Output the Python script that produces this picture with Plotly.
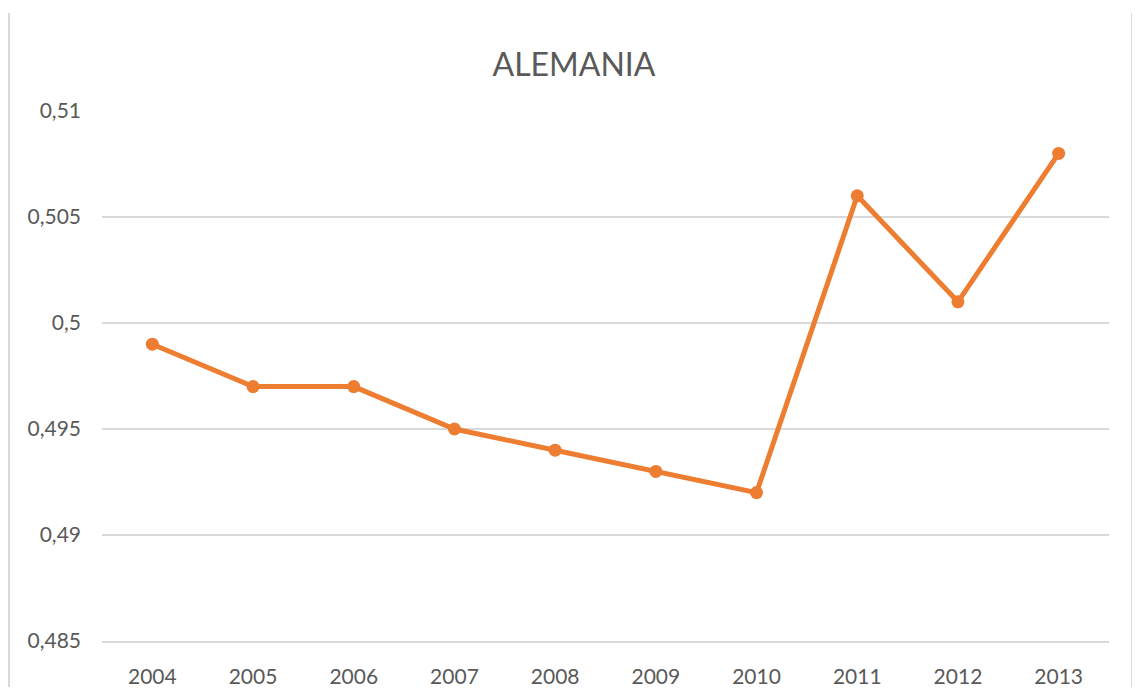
import plotly.graph_objects as go

years = ["2004", "2005", "2006", "2007", "2008", "2009", "2010", "2011", "2012", "2013"]
values = [0.499, 0.497, 0.497, 0.495, 0.494, 0.493, 0.492, 0.506, 0.501, 0.508]
y_ticks = [0.485, 0.49, 0.495, 0.5, 0.505, 0.51]

orange = "#ED7D31"
grey_text = "#595959"
grid = "#D9D9D9"
font_name = "Lato, Open Sans, sans-serif"

# the page body adds an 8px margin; keep the figure inside the window
W, H = 1132, 679
ml, mr, mt, mb = 94, 31, 103, 46
pw, ph = W - ml - mr, H - mt - mb

fig = go.Figure()
fig.add_trace(go.Scatter(x=years, y=values, mode="lines+markers",
                         line=dict(color=orange, width=5),
                         marker=dict(color=orange, size=13),
                         showlegend=False, hoverinfo="x+y"))

fig.update_layout(
    width=W, height=H,
    margin=dict(l=ml, r=mr, t=mt, b=mb),
    paper_bgcolor="white", plot_bgcolor="white",
    separators=", ",
    font=dict(family=font_name, size=21, color=grey_text),
    title=dict(text="ALEMANIA", x=0.5, xanchor="center",
               y=1 - 57 / H, yanchor="middle",
               font=dict(family=font_name, size=32, color=grey_text)),
    xaxis=dict(type="category", range=[-0.5, 9.5], showgrid=False, zeroline=False,
               showline=True, linecolor=grid, linewidth=2, ticks="", automargin=False,
               ticklabelstandoff=16, tickfont=dict(size=21, color=grey_text)),
    yaxis=dict(range=[0.485, 0.51], tickvals=y_ticks, showgrid=True, gridcolor=grid,
               gridwidth=2, zeroline=False, showline=False, ticks="", automargin=False,
               ticklabelstandoff=20, tickfont=dict(size=21, color=grey_text)),
)

# chart-area border visible at the left and right edges
for xpix in [1, 1124]:
    xp = (xpix - ml) / pw
    fig.add_shape(type="line", xref="paper", yref="paper", x0=xp, x1=xp,
                  y0=-mb / ph, y1=(H - mb - 5) / ph,
                  line=dict(color=grid, width=2))

fig.write_html("out.html")
